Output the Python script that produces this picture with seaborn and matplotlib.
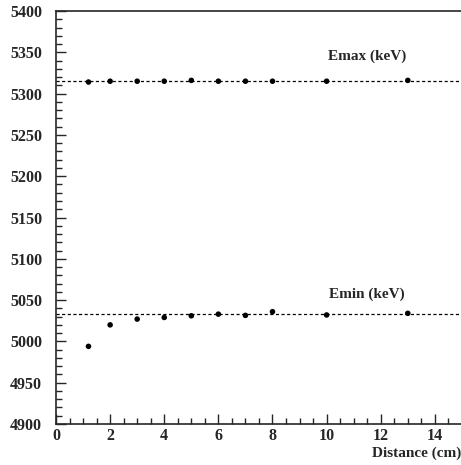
import numpy as np
import pandas as pd
import matplotlib
matplotlib.use("Agg")
import matplotlib.pyplot as plt
from matplotlib.ticker import MultipleLocator
import seaborn as sns

# Data
distance = [1.2, 2, 3, 4, 5, 6, 7, 8, 10, 13]
emax = [5314, 5315, 5315, 5315, 5316, 5315, 5315, 5315, 5315, 5316]
emin = [4994, 5020, 5027, 5029, 5031, 5033, 5031.5, 5036, 5032, 5034]
emax_ref = 5315.5
emin_ref = 5033

sns.set_style("ticks")
plt.rcParams['font.family'] = ['Liberation Serif', 'DejaVu Serif']
plt.rcParams['font.weight'] = 'bold'

df = pd.DataFrame({'distance': distance * 2,
                   'energy': emax + emin,
                   'series': ['Emax'] * len(distance) + ['Emin'] * len(distance)})

fig = plt.figure(figsize=(4.61, 4.65), dpi=100)
ax = fig.add_axes([56 / 461, 41 / 465, 1 - 56 / 461 + 0.002, 413 / 465])

sns.scatterplot(data=df, x='distance', y='energy', hue='series',
                palette=['black', 'black'], s=16, edgecolor='none',
                legend=False, ax=ax, zorder=3)

ax.axhline(emax_ref, color='black', lw=0.9, ls=(0, (2.5, 2)), zorder=2)
ax.axhline(emin_ref, color='black', lw=0.9, ls=(0, (2.5, 2)), zorder=2)

ax.text(11.5, 5345, 'Emax (keV)', ha='center', va='center', fontsize=11, fontweight='bold')
ax.text(11.5, 5057, 'Emin (keV)', ha='center', va='center', fontsize=11, fontweight='bold')

ax.set_xlim(0, 15)
ax.set_ylim(4900, 5400)
ax.xaxis.set_major_locator(MultipleLocator(2))
ax.xaxis.set_minor_locator(MultipleLocator(0.5))
ax.yaxis.set_major_locator(MultipleLocator(50))
ax.yaxis.set_minor_locator(MultipleLocator(10))
ax.tick_params(which='major', direction='in', length=7, width=1, labelsize=11.5)
ax.tick_params(which='minor', direction='in', length=4, width=1)
ax.tick_params(axis='x', which='major', pad=3)
ax.tick_params(axis='y', which='major', pad=10)
for lab in ax.get_xticklabels() + ax.get_yticklabels():
    lab.set_fontweight('bold')
for sp in ax.spines.values():
    sp.set_linewidth(1.2)

ax.set_xlabel('')
ax.set_ylabel('')
fig.text(1.0, 12 / 465, 'Distance (cm)', ha='right', va='center', fontsize=11, fontweight='bold')

fig.savefig('out.png', dpi=100)
